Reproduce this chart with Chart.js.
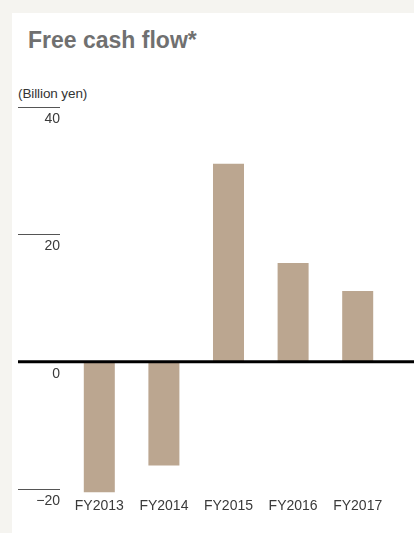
<!DOCTYPE html>
<html>
<head>
<meta charset="utf-8">
<script src="https://cdn.jsdelivr.net/npm/chart.js@4/dist/chart.umd.min.js"></script>
<style>
  html, body { margin: 0; padding: 0; background: #f5f4f0; }
  body { width: 414px; height: 533px; position: relative; overflow: hidden; font-family: "Liberation Sans", Arial, Helvetica, sans-serif; }
  #panel { position: absolute; left: 12px; top: 13px; width: 402px; height: 520px; background: #fff; }
  #title { position: absolute; left: 28px; top: 27px; font-size: 23px; font-weight: bold; color: #707070; white-space: nowrap; }
  #unit { position: absolute; left: 18px; top: 86px; font-size: 13.5px; color: #333; letter-spacing: -0.1px; white-space: nowrap; }
  #myChart { position: absolute; left: 0; top: 0; }
</style>
</head>
<body>
<div id="panel"></div>
<div id="title">Free cash flow*</div>
<div id="unit">(Billion yen)</div>
<canvas id="myChart" width="414" height="533"></canvas>
<script>
// data
var categories = ["FY2013", "FY2014", "FY2015", "FY2016", "FY2017"];
var freeCashFlow = [-20.5, -16.3, 31.1, 15.5, 11.1];
var yTicks = [-20, 0, 20, 40];

// short tick rules on the left + the heavy zero line
var axisLines = {
    id: 'axisLines',
    afterDatasetsDraw: function (chart) {
        var ctx = chart.ctx;
        var y = chart.scales.y;
        ctx.save();
        yTicks.forEach(function (t) {
            if (t === 0) return;
            var py = Math.round(y.getPixelForValue(t)) + 0.5;
            ctx.strokeStyle = '#555';
            ctx.lineWidth = 1;
            ctx.beginPath();
            ctx.moveTo(18, py);
            ctx.lineTo(60, py);
            ctx.stroke();
        });
        var zy = y.getPixelForValue(0);
        ctx.strokeStyle = '#000';
        ctx.lineWidth = 3;
        ctx.beginPath();
        ctx.moveTo(18, zy);
        ctx.lineTo(414, zy);
        ctx.stroke();
        ctx.restore();
    }
};

var ctx = document.getElementById('myChart').getContext('2d');
var myChart = new Chart(ctx, {
    type: 'bar',
    data: {
        labels: categories,
        datasets: [{
            data: freeCashFlow,
            backgroundColor: '#bba690',
            borderWidth: 0,
            barPercentage: 0.6,
            categoryPercentage: 0.8,
            clip: false
        }]
    },
    options: {
        responsive: false,
        animation: false,
        layout: { padding: { top: 107, right: 24, bottom: 0, left: 0 } },
        plugins: { legend: { display: false }, tooltip: { enabled: false } },
        scales: {
            x: {
                grid: { display: false, drawTicks: false },
                border: { display: false },
                afterFit: function (s) { s.height = 44; },
                ticks: {
                    color: '#3a3a3a',
                    padding: 9,
                    maxRotation: 0,
                    font: { family: '"Liberation Sans", Arial, sans-serif', size: 14 }
                }
            },
            y: {
                min: -20,
                max: 40,
                grid: { display: false, drawTicks: false },
                border: { display: false },
                afterFit: function (s) { s.width = 67; },
                afterBuildTicks: function (s) { s.ticks = yTicks.map(function (v) { return { value: v }; }); },
                ticks: {
                    color: '#3a3a3a',
                    padding: 7,
                    labelOffset: 12,
                    font: { family: '"Liberation Sans", Arial, sans-serif', size: 14 },
                    callback: function (v) { return v < 0 ? '\u2212' + Math.abs(v) : String(v); }
                }
            }
        }
    },
    plugins: [axisLines]
});
</script>
</body>
</html>
